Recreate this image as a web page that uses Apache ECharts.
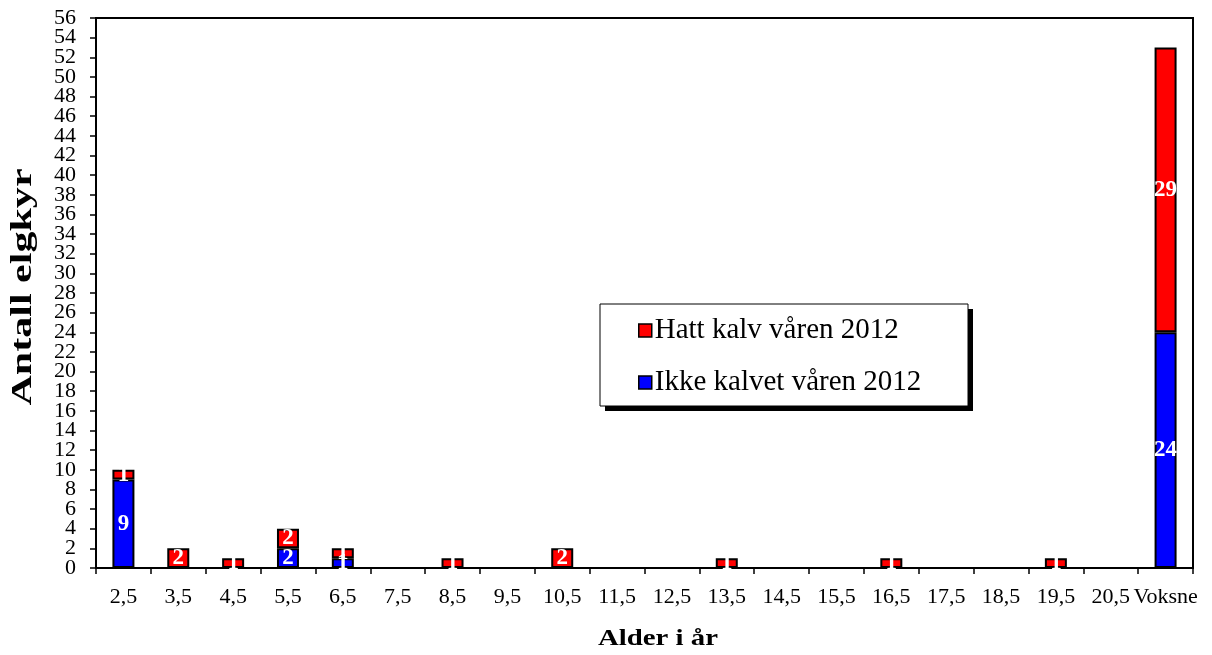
<!DOCTYPE html>
<html>
<head>
<meta charset="utf-8">
<script src="https://cdn.jsdelivr.net/npm/echarts@6/dist/echarts.min.js"></script>
<style>
  html, body { margin: 0; padding: 0; background: #fff; }
  #chart { width: 1212px; height: 655px; }
</style>
</head>
<body>
<div id="chart"></div>
<script>
// Age classes of cow moose
const categories = ['2,5','3,5','4,5','5,5','6,5','7,5','8,5','9,5','10,5','11,5','12,5','13,5','14,5','15,5','16,5','17,5','18,5','19,5','20,5','Voksne'];
// Cows without a calf in spring 2012
const ikkeKalvet = [9, 0, 0, 2, 1, 0, 0, 0, 0, 0, 0, 0, 0, 0, 0, 0, 0, 0, 0, 24];
// Cows with a calf in spring 2012
const hattKalv   = [1, 2, 1, 2, 1, 0, 1, 0, 2, 0, 0, 1, 0, 0, 1, 0, 0, 1, 0, 29];
// Axis titles and legend entries
const xTitle = 'Alder i år';
const yTitle = 'Antall elgkyr';
const seriesNames = ['Hatt kalv våren 2012', 'Ikke kalvet våren 2012'];
// Count scale
const yMin = 0, yMax = 56, yStep = 2;

const FONT = 'Liberation Serif';

// empty classes get no bar at all
function toData(arr) {
  return arr.map(v => (v === 0 ? '-' : v));
}

const segLabel = {
  show: true,
  position: 'inside',
  color: '#fff',
  fontFamily: FONT,
  fontWeight: 'bold',
  fontSize: 23,
  formatter: p => (p.value === '-' ? '' : String(p.value))
};

// The tick labels sit closer than their font height, so they are split over
// two stacked value axes (multiples of 4 and the rest) to keep every one drawn.
function yAxisDef(showLine, keep) {
  return {
    type: 'value',
    position: 'left',
    min: yMin, max: yMax, interval: yStep,
    splitLine: { show: false },
    axisLine: { show: showLine, onZero: false, lineStyle: { color: '#000', width: 2 } },
    axisTick: { show: showLine, length: 6, lineStyle: { color: '#000', width: 1.5 } },
    axisLabel: {
      color: '#000', fontFamily: FONT, fontSize: 22, margin: 20,
      hideOverlap: false,
      formatter: v => (keep(v) ? String(v) : '')
    }
  };
}

const chart = echarts.init(document.getElementById('chart'), null, { renderer: 'canvas' });
chart.setOption({
  animation: false,
  backgroundColor: '#fff',
  textStyle: { fontFamily: FONT },
  grid: {
    left: 96, right: 19, top: 18, bottom: 87,
    outerBoundsMode: 'none',
    containLabel: false,
    show: true, borderColor: '#000', borderWidth: 2, backgroundColor: 'transparent'
  },
  graphic: [
    // legend frame with its drop shadow
    { type: 'rect', z: 1, shape: { x: 605, y: 309, width: 368, height: 102 }, style: { fill: '#000' } },
    { type: 'rect', z: 2, shape: { x: 600, y: 304, width: 368, height: 102 }, style: { fill: '#fff', stroke: '#000', lineWidth: 1 } },
    // axis titles
    {
      type: 'text', z: 5, x: 658, y: 639, scaleX: 1.2,
      style: { text: xTitle, fontFamily: FONT, fontWeight: 'bold', fontSize: 24, fill: '#000', align: 'center', verticalAlign: 'middle' }
    },
    {
      type: 'text', z: 5, x: 24, y: 287, rotation: Math.PI / 2, scaleX: 1.45,
      style: { text: yTitle, fontFamily: FONT, fontWeight: 'bold', fontSize: 29, fill: '#000', align: 'center', verticalAlign: 'middle' }
    }
  ],
  legend: {
    orient: 'vertical',
    left: 638, top: 316,
    padding: 0,
    itemGap: 23,
    itemWidth: 13, itemHeight: 13,
    icon: 'rect',
    z: 10,
    data: seriesNames,
    itemStyle: { borderColor: '#000', borderWidth: 1.5 },
    textStyle: { fontFamily: FONT, fontSize: 29, color: '#000', padding: [0, 0, 0, -2] }
  },
  xAxis: {
    type: 'category',
    data: categories,
    axisLine: { lineStyle: { color: '#000', width: 2 } },
    axisTick: { show: true, alignWithLabel: false, length: 6, lineStyle: { color: '#000', width: 1.5 } },
    axisLabel: { color: '#000', fontFamily: FONT, fontSize: 22, margin: 18, interval: 0, hideOverlap: false }
  },
  yAxis: [
    yAxisDef(true, v => v % 4 === 0),
    yAxisDef(false, v => v % 4 !== 0)
  ],
  series: [
    {
      name: seriesNames[1],
      type: 'bar',
      stack: 'kyr',
      barWidth: 22,
      data: toData(ikkeKalvet),
      itemStyle: { color: '#0000ff', borderColor: '#000', borderWidth: 2 },
      label: segLabel
    },
    {
      name: seriesNames[0],
      type: 'bar',
      stack: 'kyr',
      barWidth: 22,
      data: toData(hattKalv),
      itemStyle: { color: '#ff0000', borderColor: '#000', borderWidth: 2 },
      label: segLabel
    }
  ]
});
</script>
</body>
</html>
